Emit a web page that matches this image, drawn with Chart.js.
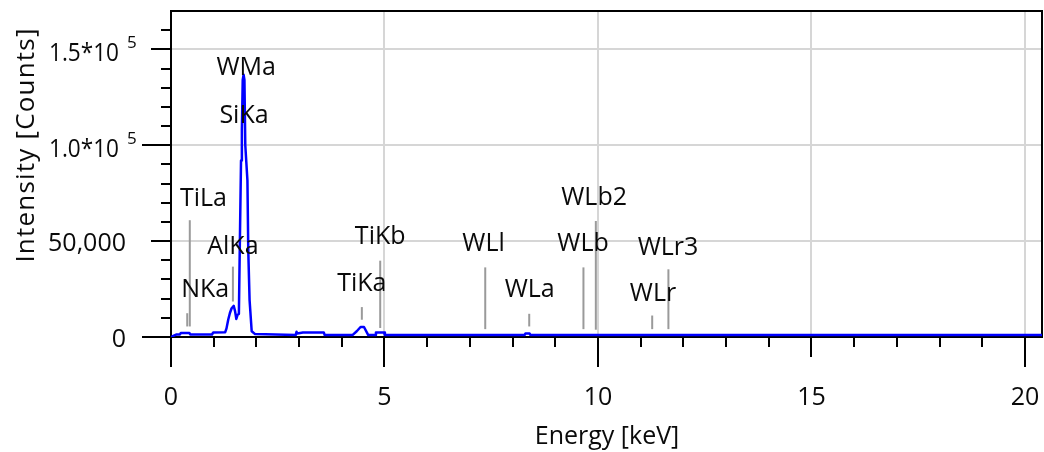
<!DOCTYPE html>
<html><head><meta charset="utf-8">
<script src="https://cdn.jsdelivr.net/npm/chart.js@4/dist/chart.umd.min.js"></script>
<style>html,body{margin:0;padding:0;background:#fff}canvas{display:block}</style>
</head><body>
<canvas id="c" width="1044" height="452"></canvas>
<script>
// ---- data ----
const energy = [0.00,0.03,0.12,0.21,0.23,0.43,0.45,0.96,0.99,1.27,1.30,1.34,1.38,1.42,1.47,1.50,1.53,1.56,1.59,1.61,1.64,1.66,1.68,1.70,1.72,1.74,1.79,1.81,1.84,1.89,1.97,2.92,2.94,2.96,3.09,3.58,3.60,4.25,4.35,4.44,4.52,4.62,4.78,4.80,4.99,5.01,8.28,8.30,8.40,8.42,20.4];
const counts = [0,300,1300,1300,2100,2100,1300,1300,2400,2500,4500,9000,12500,15000,16200,13500,9400,11600,12000,45000,92000,108000,134000,136800,134000,100000,81700,45000,19400,3000,1500,1000,2700,1800,2300,2300,1000,1000,3000,5200,5200,1000,1000,2300,2300,1000,1000,1800,1800,1000,1000];

const markerEnergy = [0.38,0.44,1.45,4.47,4.90,7.36,8.39,9.66,9.95,11.27,11.65];
const markerTop    = [12400,60900,36700,15600,39800,36300,12100,36300,60500,11200,35300];
const markerBottom = [5500,5500,18500,9000,4700,4100,5500,4100,3800,4100,4100];

const labelText   = ['NKa','TiLa','AlKa','SiKa','WMa','TiKa','TiKb','WLl','WLa','WLb','WLb2','WLr','WLr3'];
const labelEnergy = [0.80,0.76,1.45,1.71,1.76,4.47,4.90,7.32,8.40,9.65,9.91,11.29,11.64];
const labelCounts = [25600,73000,47900,116400,141400,28900,53100,49600,25400,49600,73400,23700,47400];

const xTickValues = [0,5,10,15,20];
const xTickLabels = ['0','5','10','15','20'];
const yTickValues = [0,50000,100000,150000];
const yTickLabels = ['0','50,000','1.0*10^5','1.5*10^5'];
const xTitle = 'Energy [keV]';
const yTitle = 'Intensity [Counts]';
const xMinorStep = 1, yMinorStep = 10000;
const xMax = 20.4, yMax = 170000;

// ---- styling ----
const FONT = '"Open Sans", "Noto Sans", sans-serif';
const TXT = '#0a0a0a';
const GRID = '#d6d6d6';

const datasets = [{
  data: energy.map((e,i)=>({x:e,y:counts[i]})),
  showLine: true, borderColor: '#0000ff', borderWidth: 2.5, pointRadius: 0, tension: 0, order: 0
}];
markerEnergy.forEach((e,i)=>{
  datasets.push({data:[{x:e,y:markerBottom[i]},{x:e,y:markerTop[i]}], showLine:true,
    borderColor:'#9a9a9a', borderWidth:2, pointRadius:0, order:1});
});

const decor = {
  id:'decor',
  beforeDatasetsDraw(chart){
    const {ctx, chartArea:a, scales:{x,y}} = chart;
    ctx.save();
    ctx.strokeStyle = '#000'; ctx.lineWidth = 2; ctx.lineCap='butt';
    for (let v=0; v<=Math.floor(xMax); v+=xMinorStep){
      const px = Math.round(x.getPixelForValue(v));
      let len = 10;
      if (v % 5 === 0) len = (v===15) ? 20 : 30;
      ctx.beginPath(); ctx.moveTo(px, a.bottom); ctx.lineTo(px, a.bottom+len); ctx.stroke();
    }
    for (let v=0; v<yMax; v+=yMinorStep){
      const py = Math.round(y.getPixelForValue(v));
      let len = 10;
      if (v % 100000 === 0) len = 29; else if (v % 50000 === 0) len = 20;
      ctx.beginPath(); ctx.moveTo(a.left, py); ctx.lineTo(a.left-len, py); ctx.stroke();
    }
    ctx.strokeRect(a.left, a.top, a.right-a.left, a.bottom-a.top);
    ctx.restore();
  },
  afterDraw(chart){
    const {ctx, chartArea:a, scales:{x,y}} = chart;
    ctx.save();
    ctx.fillStyle = TXT;
    ctx.textBaseline = 'alphabetic';
    ctx.font = '25px ' + FONT; ctx.textAlign='center';
    xTickValues.forEach((v,i)=>{ ctx.fillText(xTickLabels[i], x.getPixelForValue(v), a.bottom+68); });
    yTickValues.forEach((v,i)=>{
      const py = y.getPixelForValue(v);
      const lab = yTickLabels[i];
      if (lab.includes('^')){
        const [base, sup] = lab.split('^');
        ctx.font = '25px ' + FONT; ctx.textAlign='right';
        ctx.fillText(base, a.left-52, py+12, 70);
        ctx.font = '17px ' + FONT; ctx.textAlign='left';
        ctx.fillText(sup, a.left-44, py-1);
      } else {
        ctx.font = '25px ' + FONT; ctx.textAlign='right';
        ctx.fillText(lab, a.left-45, py+9.5);
      }
    });
    ctx.font = '25px ' + FONT; ctx.textAlign='center';
    ctx.fillText(xTitle, 607, 443.5);
    ctx.save(); ctx.translate(34, 145); ctx.rotate(-Math.PI/2);
    ctx.font = '26px ' + FONT;
    if ('letterSpacing' in ctx) ctx.letterSpacing = '1.2px';
    ctx.fillText(yTitle, 0, 0); ctx.restore();
    ctx.font = '25px ' + FONT; ctx.textAlign='center';
    labelText.forEach((t,i)=>{
      ctx.fillText(t, x.getPixelForValue(labelEnergy[i]), y.getPixelForValue(labelCounts[i])+9);
    });
    ctx.restore();
  }
};

new Chart(document.getElementById('c'), {
  type: 'scatter',
  data: { datasets },
  plugins: [decor],
  options: {
    responsive: false, animation: false, devicePixelRatio: 1,
    layout: { padding: { left: 171, top: 11, right: 2, bottom: 115 }, autoPadding: false },
    plugins: { legend: {display:false}, tooltip: {enabled:false} },
    elements: { line: { borderJoinStyle: 'round' } },
    scales: {
      x: { type:'linear', min:0, max:xMax,
        afterBuildTicks: s => { s.ticks = xTickValues.map(v=>({value:v})); },
        ticks:{ display:false },
        border:{ display:false },
        grid:{ drawTicks:false, lineWidth:2,
          color:(c)=> (c.tick && c.tick.value>0) ? GRID : 'rgba(0,0,0,0)' } },
      y: { type:'linear', min:0, max:yMax,
        afterBuildTicks: s => { s.ticks = yTickValues.map(v=>({value:v})); },
        ticks:{ display:false },
        border:{ display:false },
        grid:{ drawTicks:false, lineWidth:2,
          color:(c)=> (c.tick && c.tick.value>0) ? GRID : 'rgba(0,0,0,0)' } }
    }
  }
});
</script>
</body></html>
